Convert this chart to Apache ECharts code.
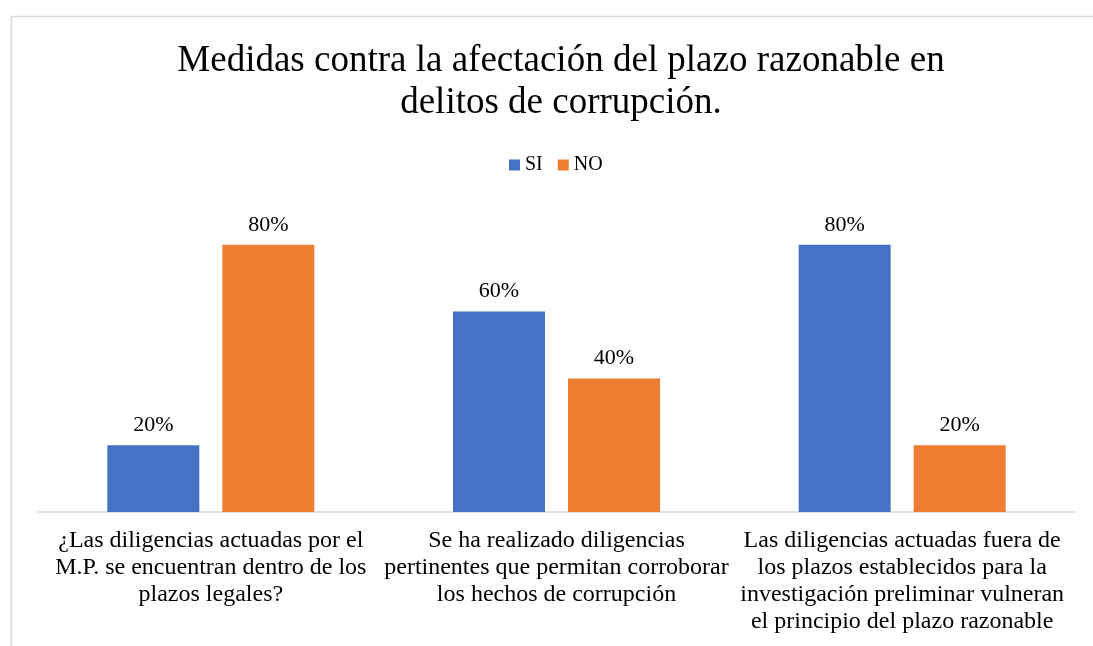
<!DOCTYPE html>
<html>
<head>
<meta charset="utf-8">
<script src="https://cdn.jsdelivr.net/npm/echarts@6/dist/echarts.min.js"></script>
<style>
  html, body { margin: 0; padding: 0; background: #fff; }
  #chart { width: 1093px; height: 646px; }
</style>
</head>
<body>
<div id="chart"></div>
<script>
const categories = [
  "¿Las diligencias actuadas por el\nM.P. se encuentran dentro de los\nplazos legales?",
  "Se ha realizado diligencias\npertinentes que permitan corroborar\nlos hechos de corrupción",
  "Las diligencias actuadas fuera de\nlos plazos establecidos para la\ninvestigación preliminar vulneran\nel principio del plazo razonable"
];
const siValues = [20, 60, 80];
const noValues = [80, 40, 20];

const font = "Liberation Serif";
const chart = echarts.init(document.getElementById("chart"));

const labelStyle = {
  show: true,
  position: "top",
  distance: 9,
  formatter: "{c}%",
  fontFamily: font,
  fontSize: 22,
  color: "#000"
};

chart.setOption({
  textStyle: { fontFamily: font },
  title: {
    text: "Medidas contra la afectación del plazo razonable en\ndelitos de corrupción.",
    left: 556,
    top: 35,
    textAlign: "center",
    textStyle: {
      fontFamily: font,
      fontSize: 37,
      fontWeight: "normal",
      color: "#000",
      lineHeight: 42
    }
  },
  legend: {
    data: ["SI", "NO"],
    left: 504,
    top: 150,
    itemWidth: 11,
    itemHeight: 11,
    itemGap: 15,
    icon: "rect",
    textStyle: { fontFamily: font, fontSize: 20, color: "#000" }
  },
  graphic: [{
    type: "rect",
    left: 9,
    top: 14,
    shape: { width: 1200, height: 800 },
    style: { fill: "none", stroke: "#d9d9d9", lineWidth: 1.5 },
    silent: true
  }],
  grid: { left: 38, right: 18, top: 178, bottom: 134 },
  xAxis: {
    type: "category",
    data: categories,
    axisLine: { lineStyle: { color: "#d9d9d9", width: 1.5 } },
    axisTick: { show: false },
    axisLabel: {
      interval: 0,
      margin: 15,
      fontFamily: font,
      fontSize: 24,
      lineHeight: 27,
      color: "#000"
    }
  },
  yAxis: {
    type: "value",
    min: 0,
    max: 100,
    show: false
  },
  series: [
    {
      name: "SI",
      type: "bar",
      data: siValues,
      barWidth: 92,
      barGap: "25%",
      itemStyle: { color: "#4472C4" },
      label: labelStyle
    },
    {
      name: "NO",
      type: "bar",
      data: noValues,
      barWidth: 92,
      itemStyle: { color: "#ED7D31" },
      label: labelStyle
    }
  ]
});
</script>
</body>
</html>
